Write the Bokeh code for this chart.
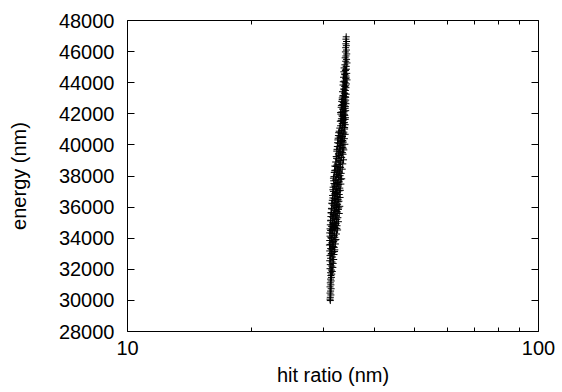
from bokeh.plotting import figure
from bokeh.models import LogAxis, LinearAxis, FixedTicker, Range1d
from bokeh.embed import file_html
from bokeh.resources import INLINE

# ---- data ----
hit_a = [34.05, 34.0, 34.12, 33.98, 34.08, 33.95, 34.1, 33.9, 34.15, 34.0, 33.85, 34.12, 33.95, 34.2, 33.8, 34.05]
energy_a = [46950, 46800, 46650, 46500, 46380, 46250, 46100, 45980, 45850, 45720, 45600, 45500, 45380, 45270, 45150, 45050]

hit_b = [33.65, 34.1, 33.9, 33.6, 34.15, 33.8, 34.0, 33.55, 33.95, 34.2, 33.7, 33.85, 34.1, 33.45, 33.75, 34.0, 33.6, 33.9, 33.35, 33.7, 34.05, 33.5, 33.85, 33.3]
energy_b = [44950, 44870, 44780, 44700, 44600, 44520, 44430, 44350, 44260, 44180, 44100, 44000, 43920, 43850, 43760, 43680, 43600, 43500, 43420, 43340, 43260, 43180, 43100, 43020]
hit_b2 = [33.9, 33.75, 34.05, 33.5, 33.95, 33.65, 33.8, 33.4, 33.95]
energy_b2 = [44820, 44560, 44310, 44060, 43800, 43550, 43300, 43140, 43060]

hit_c = [33.65, 33.95, 33.2, 33.5, 34.0, 33.35, 33.75, 33.1, 33.85, 33.45, 33.95, 33.25, 33.6, 33.05, 33.8, 33.4, 33.9, 33.15, 33.55, 32.95, 33.7, 33.3, 33.85, 33.0, 33.45, 32.85, 33.75, 33.2]
energy_c = [42950, 42880, 42800, 42730, 42650, 42580, 42500, 42420, 42350, 42280, 42200, 42120, 42050, 41980, 41900, 41830, 41750, 41680, 41600, 41520, 41450, 41380, 41300, 41230, 41150, 41080, 41020, 40950]
hit_c2 = [33.3, 33.8, 33.55, 33.15, 33.9, 33.4, 33.65, 33.0, 33.7, 33.25, 33.5, 33.85, 33.1, 33.6, 33.35, 33.75]
energy_c2 = [42915, 42765, 42615, 42540, 42460, 42315, 42160, 42085, 41940, 41865, 41715, 41640, 41560, 41415, 41265, 41115]

hit_d = [32.75, 33.6, 33.05, 33.85, 32.6, 33.35, 32.9, 33.7, 32.5, 33.15, 33.5, 32.7, 33.8, 32.95, 32.4, 33.3, 32.8, 33.6, 32.3, 33.05, 32.6, 33.45, 32.85, 32.2, 33.2, 32.5, 33.55, 32.7, 32.1, 33.0, 33.4]
energy_d = [40880, 40820, 40750, 40680, 40600, 40540, 40460, 40400, 40320, 40250, 40180, 40100, 40040, 39960, 39900, 39830, 39750, 39680, 39600, 39540, 39460, 39400, 39320, 39250, 39180, 39100, 39040, 38960, 38900, 38850, 38780]
hit_d2 = [33.25, 32.65, 33.5, 32.85, 33.1, 32.55, 33.4, 33.0, 32.45, 33.25, 32.75, 33.5, 32.35, 32.95, 33.35, 32.6, 33.1, 32.25, 32.9]
energy_d2 = [40915, 40785, 40715, 40575, 40500, 40430, 40285, 40215, 40140, 40000, 39865, 39790, 39715, 39570, 39500, 39360, 39210, 39140, 38990]

hit_e = [32.3, 31.95, 32.85, 32.5, 33.3, 32.0, 32.65, 31.85, 33.1, 32.4, 32.9, 31.8, 32.55, 33.2, 32.15, 31.75, 32.75, 32.35, 33.05, 31.9, 32.5, 31.65, 32.85, 32.2, 32.95, 31.7, 32.4, 32.05, 32.75, 31.55, 32.3, 32.9, 31.85, 32.55]
energy_e = [38700, 38640, 38580, 38500, 38440, 38370, 38300, 38230, 38170, 38100, 38020, 37960, 37900, 37820, 37760, 37690, 37620, 37550, 37480, 37420, 37350, 37280, 37220, 37150, 37080, 37010, 36950, 36880, 36810, 36750, 36680, 36620, 36560, 36500]
hit_e2 = [32.7, 32.15, 33.0, 32.4, 31.95, 32.8, 32.25, 32.6, 31.7, 33.0, 32.1, 32.45, 31.8, 32.65, 32.0, 32.3, 31.6, 32.7, 32.15, 31.9]
energy_e2 = [38740, 38610, 38540, 38400, 38335, 38200, 38060, 37990, 37860, 37790, 37720, 37585, 37515, 37450, 37320, 37185, 37115, 37045, 36915, 36845]

hit_f = [31.5, 32.7, 32.0, 31.4, 32.45, 31.75, 32.85, 32.15, 31.35, 32.6, 31.9, 32.3, 31.3, 32.75, 31.65, 32.05, 31.25, 32.5, 31.8, 32.2, 31.2, 32.6, 31.55, 31.95, 31.15, 32.35, 31.7, 32.05, 31.1, 32.45, 31.45, 31.85, 31.05]
energy_f = [36440, 36380, 36310, 36250, 36180, 36120, 36050, 35980, 35920, 35850, 35790, 35720, 35650, 35590, 35520, 35450, 35390, 35320, 35260, 35190, 35120, 35060, 34990, 34920, 34860, 34800, 34730, 34660, 34600, 34530, 34470, 34400, 34340]
hit_f2 = [32.4, 31.6, 32.1, 31.85, 32.55, 31.5, 32.25, 31.95, 32.65, 31.4, 32.0, 32.4, 31.3, 31.75, 32.15, 31.55, 32.3, 31.25, 31.9, 32.2, 31.6, 32.1, 31.35, 31.9, 32.3, 31.5, 31.2]
energy_f2 = [36710, 36590, 36470, 36410, 36345, 36215, 36085, 36015, 35950, 35880, 35820, 35685, 35620, 35555, 35420, 35355, 35225, 35155, 35030, 34955, 34895, 34830, 34765, 34700, 34630, 34565, 34500]

hit_g = [32.25, 31.6, 31.1, 31.95, 31.35, 32.15, 31.05, 31.75, 31.4, 32.05, 31.0, 31.55, 31.85, 31.2, 31.95, 31.05, 31.6, 31.35, 31.8, 31.1]
energy_g = [34270, 34200, 34130, 34060, 34000, 33920, 33850, 33780, 33700, 33630, 33560, 33480, 33410, 33330, 33250, 33180, 33100, 33020, 32950, 32880]
hit_g2 = [31.45, 31.85, 31.25, 32.0, 31.55, 31.15, 31.7, 31.4, 31.9, 31.3]
energy_g2 = [34300, 34165, 34030, 33880, 33740, 33600, 33450, 33290, 33140, 32980]

hit_h = [31.55, 31.2, 31.75, 31.05, 31.45, 31.65, 31.15, 31.4, 31.6, 31.1, 31.35, 31.5, 31.2, 31.4, 31.25]
energy_h = [32790, 32710, 32630, 32550, 32470, 32380, 32300, 32210, 32120, 32040, 31950, 31860, 31780, 31690, 31600]

hit_i = [31.35, 31.2, 31.3, 31.15, 31.25, 31.1, 31.3, 31.2, 31.1, 31.25, 31.15, 31.1, 31.15]
energy_i = [31480, 31370, 31250, 31130, 31000, 30870, 30750, 30600, 30470, 30350, 30200, 30080, 29990]

hit_ratio = (hit_a + hit_b + hit_b2 + hit_c + hit_c2 + hit_d + hit_d2 + hit_e + hit_e2
             + hit_f + hit_f2 + hit_g + hit_g2 + hit_h + hit_i)
energy = (energy_a + energy_b + energy_b2 + energy_c + energy_c2 + energy_d + energy_d2 + energy_e + energy_e2
          + energy_f + energy_f2 + energy_g + energy_g2 + energy_h + energy_i)

x_major = [10, 100]
x_major_labels = ["10", "100"]
x_minor = [20, 30, 40, 50, 60, 70, 80, 90]
y_ticks = [28000, 30000, 32000, 34000, 36000, 38000, 40000, 42000, 44000, 46000, 48000]

FONT = "Liberation Sans"
FS = "20px"

p = figure(width=562, height=392, x_axis_type="log",
           x_range=Range1d(10, 100), y_range=Range1d(28000, 48000),
           output_backend="svg", toolbar_location=None,
           min_border_left=127, min_border_right=24,
           min_border_top=20, min_border_bottom=61)

p.xgrid.visible = False
p.ygrid.visible = False
p.outline_line_color = "black"
p.outline_line_width = 1
p.outline_line_alpha = 1

p.scatter(hit_ratio, energy, marker="cross", size=7, line_color="black", line_width=1)

def style(ax):
    ax.major_tick_in = 7
    ax.major_tick_out = 0
    ax.minor_tick_in = 4
    ax.minor_tick_out = 0
    ax.major_tick_line_color = "black"
    ax.minor_tick_line_color = "black"
    ax.axis_line_color = None
    ax.major_label_text_font = FONT
    ax.major_label_text_font_size = FS
    ax.major_label_text_color = "black"
    ax.axis_label_text_font = FONT
    ax.axis_label_text_font_size = FS
    ax.axis_label_text_font_style = "normal"
    ax.axis_label_text_color = "black"

xa = p.xaxis[0]
xa.ticker = FixedTicker(ticks=x_major, minor_ticks=x_minor)
xa.major_label_overrides = dict(zip(x_major, x_major_labels))
xa.axis_label = "hit ratio (nm)"
style(xa)
xa.major_label_standoff = 9
xa.axis_label_standoff = 6

ya = p.yaxis[0]
ya.ticker = FixedTicker(ticks=y_ticks, minor_ticks=[])
ya.axis_label = "energy (nm)"
style(ya)
ya.major_label_standoff = 13
ya.axis_label_standoff = 26

top = LogAxis(ticker=FixedTicker(ticks=x_major, minor_ticks=x_minor))
style(top)
top.major_label_overrides = {v: "" for v in x_major}
top.major_label_text_font_size = "1px"
top.major_label_standoff = 0
p.add_layout(top, "above")

right = LinearAxis(ticker=FixedTicker(ticks=y_ticks, minor_ticks=[]))
style(right)
right.major_label_overrides = {v: "" for v in y_ticks}
right.major_label_text_font_size = "1px"
right.major_label_standoff = 0
p.add_layout(right, "right")

open("out.html", "w").write(file_html(p, INLINE))
